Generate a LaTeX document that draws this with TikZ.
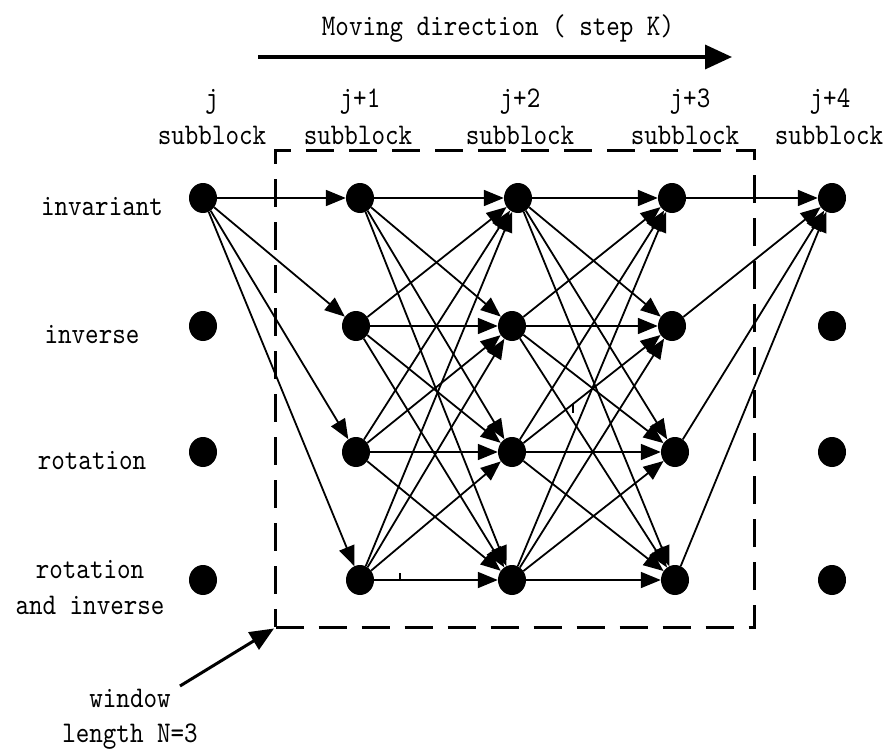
\documentclass[tikz,border=0pt]{standalone}
\usepackage{fontspec}
\newfontfamily\lbfont{lmmono10-regular.otf}[FakeStretch=0.86]
\usetikzlibrary{arrows.meta,shapes.geometric}
\tikzset{
  dot/.style={ellipse,fill=black,minimum width=28pt,minimum height=30pt,inner sep=0pt},
  ar/.style={line width=1.8pt,-{Triangle[length=20pt,width=16pt]}},
  lbl/.style={font=\lbfont\fontsize{30}{37}\selectfont,inner sep=0pt,anchor=base},
  win/.style={draw,line width=3pt,dash pattern=on 28pt off 15pt,minimum width=479pt,minimum height=476pt,inner sep=0pt}
}
\begin{document}
\begin{tikzpicture}[x=1pt,y=-1pt]
\useasboundingbox (0,0) rectangle (886,749);
% title and moving arrow
\node[lbl] (title) at (498,36) {Moving direction ( step K)};
\coordinate (ms) at (258,57);
\coordinate (me) at (732,57);
\draw[line width=3.5pt,-{Triangle[length=27pt,width=24pt]}] (ms) -- (me);
% column labels
\node[lbl] (lj) at (212,108) {j};
\node[lbl] (sj) at (212,145) {subblock};
\node[lbl] (lj1) at (360,108) {j+1};
\node[lbl] (sj1) at (358,145) {subblock};
\node[lbl] (lj2) at (520,108) {j+2};
\node[lbl] (sj2) at (520,145) {subblock};
\node[lbl] (lj3) at (690,108) {j+3};
\node[lbl] (sj3) at (685,145) {subblock};
\node[lbl] (lj4) at (830,108) {j+4};
\node[lbl] (sj4) at (829,145) {subblock};
% row labels
\node[lbl] (r1) at (102,215) {invariant};
\node[lbl] (r2) at (92,343) {inverse};
\node[lbl] (r3) at (92,469) {rotation};
\node[lbl] (r4) at (90,578) {rotation};
\node[lbl] (r4b) at (90,614) {and inverse};
% window
\node[win] (w) at (515,389) {};
\node[lbl] (wl) at (130,707) {window};
\node[lbl] (wl2) at (130,742) {length N=3};
\coordinate (wa) at (180,686);
\draw[line width=3pt,-{Triangle[length=24pt,width=20pt]}] (wa) -- (w.south west);
% nodes
\node[dot] (a1) at (203,198) {};
\node[dot] (a2) at (203,326) {};
\node[dot] (a3) at (203,452) {};
\node[dot] (a4) at (203,580) {};
\node[dot] (b1) at (360,198) {};
\node[dot] (b2) at (356,326) {};
\node[dot] (b3) at (356,452) {};
\node[dot] (b4) at (360,580) {};
\node[dot] (c1) at (518,198) {};
\node[dot] (c2) at (512,326) {};
\node[dot] (c3) at (512,452) {};
\node[dot] (c4) at (512,580) {};
\node[dot] (d1) at (672,198) {};
\node[dot] (d2) at (672,326) {};
\node[dot] (d3) at (675,452) {};
\node[dot] (d4) at (675,580) {};
\node[dot] (e1) at (832,198) {};
\node[dot] (e2) at (832,326) {};
\node[dot] (e3) at (832,452) {};
\node[dot] (e4) at (832,580) {};
% edges
\foreach \k in {1,2,3,4} {
  \draw[ar] (a1) -- (b\k);
  \draw[ar] (d\k) -- (e1);
  \foreach \i in {1,2,3,4} {
    \draw[ar] (b\i) -- (c\k);
    \draw[ar] (c\i) -- (d\k);
  }
}
% small stray ticks
\draw[line width=1.2pt] (400,573) -- (400,581);
\draw[line width=1.2pt] (573,404) -- (573,413);
\end{tikzpicture}
\end{document}
